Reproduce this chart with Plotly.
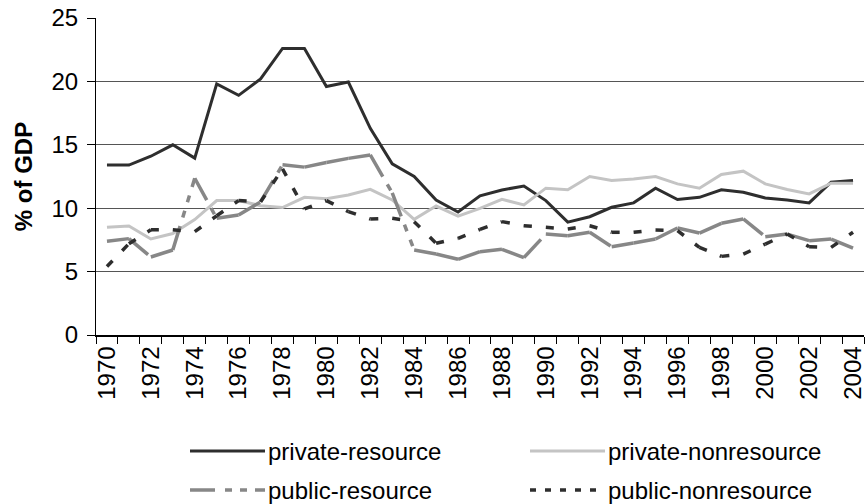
import plotly.graph_objects as go

years = list(range(1970, 2005))

private_resource = [13.4, 13.4, 14.1, 15.0, 13.95, 19.8, 18.9, 20.2, 22.6, 22.6,
                    19.6, 19.95, 16.3, 13.5, 12.5, 10.65, 9.7, 10.98, 11.44, 11.75,
                    10.6, 8.9, 9.33, 10.07, 10.42, 11.58, 10.68, 10.86, 11.45, 11.26,
                    10.81, 10.65, 10.42, 12.05, 12.18]

private_nonresource = [8.49, 8.6, 7.57, 8.0, 9.1, 10.6, 10.6, 10.2, 10.05, 10.86,
                       10.75, 11.04, 11.49, 10.65, 9.12, 10.17, 9.38, 9.99, 10.7, 10.26,
                       11.58, 11.45, 12.5, 12.18, 12.3, 12.5, 11.92, 11.58, 12.66, 12.92,
                       11.92, 11.47, 11.13, 11.97, 11.97]

public_resource = [7.4, 7.6, 6.15, 6.7, 12.36, 9.2, 9.46, 10.5, 13.42, 13.24,
                   13.6, 13.93, 14.2, 11.2, 6.7, 6.39, 5.97, 6.57, 6.76, 6.1,
                   7.96, 7.83, 8.1, 6.96, 7.25, 7.57, 8.44, 8.04, 8.81, 9.15,
                   7.75, 7.96, 7.44, 7.57, 6.86]

public_nonresource = [5.4, 7.2, 8.3, 8.3, 8.15, 9.4, 10.6, 10.5, 13.1, 9.94,
                      10.6, 9.73, 9.15, 9.2, 8.94, 7.23, 7.62, 8.33, 8.94, 8.62,
                      8.49, 8.36, 8.62, 8.1, 8.1, 8.28, 8.23, 6.91, 6.2, 6.38,
                      7.17, 7.96, 6.96, 6.91, 8.1]

series_names = ["private-resource", "private-nonresource", "public-resource", "public-nonresource"]
tick_years = list(range(1970, 2005, 2))

DARK = "#2e2e2e"
LIGHT = "#c4c4c4"
MID = "#878787"
FONT = "Liberation Sans, Arial, sans-serif"
FS = 24

fig = go.Figure()

# solid series
fig.add_trace(go.Scatter(x=years, y=private_resource, mode="lines", name=series_names[0],
                         line=dict(color=DARK, width=3), showlegend=False))
fig.add_trace(go.Scatter(x=years, y=private_nonresource, mode="lines", name=series_names[1],
                         line=dict(color=LIGHT, width=3), showlegend=False))

# dashed series: dash pattern restarts on every segment (as in the original renderer)
for i in range(len(years) - 1):
    fig.add_trace(go.Scatter(x=years[i:i + 2], y=public_resource[i:i + 2], mode="lines",
                             name=series_names[2],
                             line=dict(color=MID, width=3.5, dash="25px,9px,7px,9px,7px,9px"),
                             showlegend=False, hoverinfo="skip"))
for i in range(len(years) - 1):
    fig.add_trace(go.Scatter(x=years[i:i + 2], y=public_nonresource[i:i + 2], mode="lines",
                             name=series_names[3],
                             line=dict(color=DARK, width=3.5, dash="8px,14px"),
                             showlegend=False, hoverinfo="skip"))

# manual legend (long line samples like the original)
L, T, R, H = 96, 18, 4, 317
W = 868 - L - R
def px(x):
    return (x - L) / W
def py(y):
    return (T + H - y) / H

legend_items = [
    (series_names[0], DARK, 3, "solid", 190, 451),
    (series_names[1], LIGHT, 3, "solid", 530, 451),
    (series_names[2], MID, 3.5, "25px,10px,7px,8px,7px,8px", 190, 490),
    (series_names[3], DARK, 3.5, "6px,9px", 530, 490),
]
shapes = []
annotations = []
for name, color, width, dash, x0, y0 in legend_items:
    shapes.append(dict(type="line", xref="paper", yref="paper",
                       x0=px(x0), x1=px(x0 + 75), y0=py(y0), y1=py(y0),
                       line=dict(color=color, width=width, dash=dash)))
    annotations.append(dict(xref="paper", yref="paper", x=px(x0 + 76), y=py(y0),
                            xanchor="left", yanchor="middle", showarrow=False,
                            text=name, font=dict(family=FONT, size=FS, color="black")))

fig.update_layout(
    width=868, height=504,
    margin=dict(l=L, r=R, t=T, b=504 - T - H, autoexpand=False),
    paper_bgcolor="white", plot_bgcolor="white",
    font=dict(family=FONT, size=FS, color="black"),
    shapes=shapes, annotations=annotations,
    showlegend=False,
)
fig.update_yaxes(range=[0, 25], dtick=5, tick0=0, showgrid=True, gridcolor="#555555", gridwidth=1,
                 zeroline=False, showline=True, linecolor="black", linewidth=1,
                 ticks="outside", ticklen=8, tickcolor="black", automargin=False,
                 ticklabelstandoff=4,
                 title=dict(text="<b>% of GDP</b>", standoff=12, font=dict(size=FS)),
                 tickfont=dict(size=FS))
fig.update_xaxes(range=[1969.5, 2004.5], tickmode="array", tickvals=tick_years,
                 ticktext=[str(y) for y in tick_years], tickangle=-90,
                 showgrid=False, zeroline=False, showline=True, linecolor="black", linewidth=1.5,
                 ticks="", tickfont=dict(size=FS), automargin=False, ticklabeloverflow="allow",
                 minor=dict(ticks="outside", ticklen=7, tickcolor="black", tick0=1969.5, dtick=1,
                            showgrid=False))

fig.write_html("out.html", config={"displayModeBar": False},
               post_script="document.body.style.margin='0';document.body.style.overflow='hidden';")
